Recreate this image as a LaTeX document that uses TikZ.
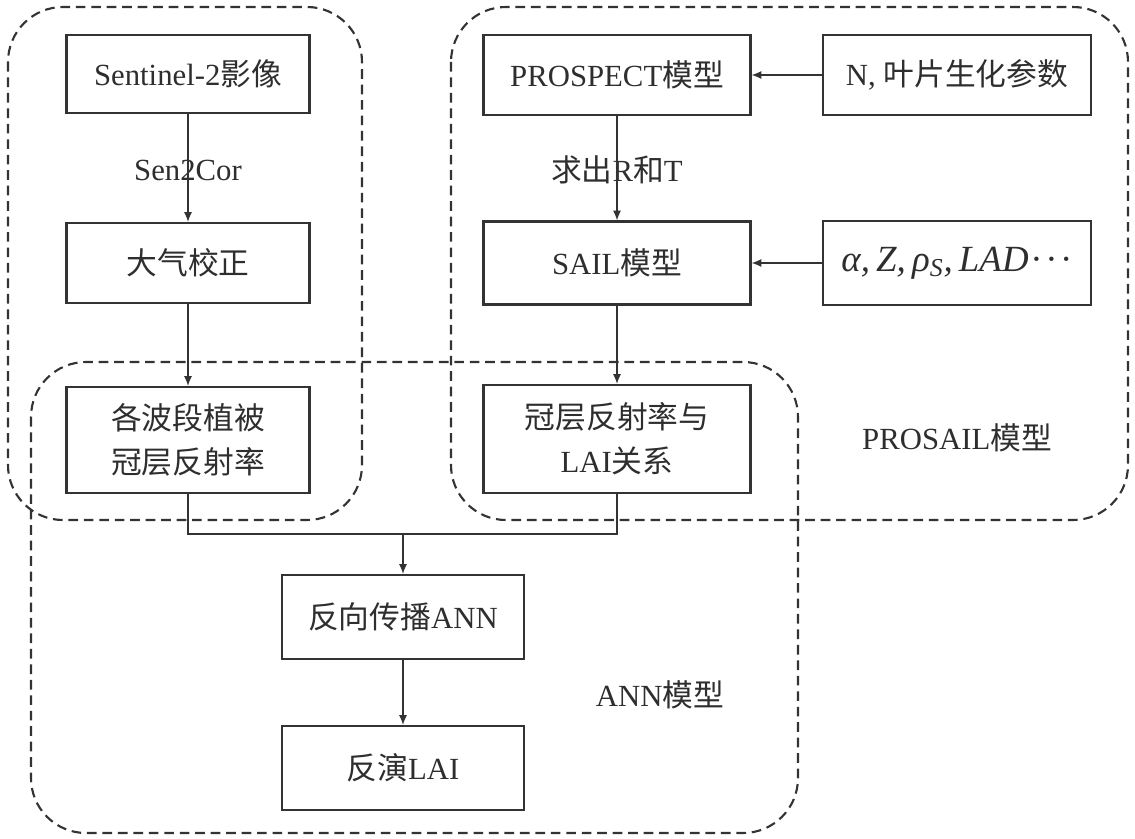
\documentclass[tikz,border=0pt]{standalone}
\usepackage{fontspec}
\setmainfont{Liberation Serif}
\newfontfamily\cjkfont{Noto Sans CJK SC}
\newcommand{\zh}[1]{{\cjkfont #1}}
\usetikzlibrary{arrows.meta}
\definecolor{ink}{HTML}{333333}
\definecolor{txt}{HTML}{2E2E2E}
\begin{document}
\begin{tikzpicture}[x=0.02cm,y=-0.02cm,
  font=\fontsize{17.5}{25}\selectfont,
  box/.style={draw=ink, line width=1.3pt, text=txt, inner sep=0pt, align=center},
  lbl/.style={text=txt, inner sep=0pt, align=center},
  region/.style={draw=ink, line width=1.2pt, dash pattern=on 5.5pt off 3.3pt, rounded corners=1.1cm},
  link/.style={draw=ink, line width=0.7pt},
  conn/.style={link, -{Latex[length=5.5pt,width=4.5pt]}}]
\useasboundingbox (0,0) rectangle (1135,838);
% regions
\draw[region] (8,7) rectangle (362,520);
\draw[region] (451,7) rectangle (1128,520);
\draw[region] (31,362) rectangle (798,833);
% boxes
\node[box, minimum width=4.86cm, minimum height=1.56cm] (s2) at (188,74) {Sentinel-2\zh{影像}};
\node[box, minimum width=4.86cm, minimum height=1.6cm] (atm) at (188,263) {\zh{大气校正}};
\node[box, minimum width=4.86cm, minimum height=2.12cm] (refl) at (188,440) {\zh{各波段植被}\\\zh{冠层反射率}};
\node[box, minimum width=5.34cm, minimum height=1.6cm] (pro) at (617,75) {PROSPECT\zh{模型}};
\node[box, minimum width=5.36cm, minimum height=1.6cm] (np) at (957,75) {N, \zh{叶片生化参数}};
\node[box, minimum width=5.34cm, minimum height=1.66cm] (sail) at (617,263) {SAIL\zh{模型}};
\node[box, minimum width=5.36cm, minimum height=1.68cm] (ap) at (957,263) {{\fontsize{21}{25}\selectfont\itshape α,\,Z,\,ρ\textsubscript{S},\,LAD\upshape\kern1pt·\kern1.5pt·\kern1.5pt·}};
\node[box, minimum width=5.34cm, minimum height=2.16cm] (rel) at (617,439) {\zh{冠层反射率与}\\LAI\zh{关系}};
\node[box, minimum width=4.84cm, minimum height=1.68cm] (bp) at (403,617) {\zh{反向传播}ANN};
\node[box, minimum width=4.84cm, minimum height=1.68cm] (inv) at (403,768) {\zh{反演}LAI};
% labels
\node[lbl] (l1) at (188,170) {Sen2Cor};
\node[lbl] (l2) at (617,170) {\zh{求出}R\zh{和}T};
\node[lbl] (l3) at (957,438) {PROSAIL\zh{模型}};
\node[lbl] (l4) at (660,695) {ANN\zh{模型}};
% connectors
\draw[conn] (s2) -- (atm);
\draw[conn] (atm) -- (refl);
\draw[conn] (np) -- (pro);
\draw[conn] (pro) -- (sail);
\draw[conn] (ap) -- (sail);
\draw[conn] (sail) -- (rel);
\coordinate (jl) at (188,534);
\coordinate (jr) at (617,534);
\coordinate (jm) at (403,534);
\draw[link] (refl.south) -- (jl) -- (jr) -- (rel.south);
\draw[conn] (jm) -- (bp);
\draw[conn] (bp) -- (inv);
\end{tikzpicture}
\end{document}
